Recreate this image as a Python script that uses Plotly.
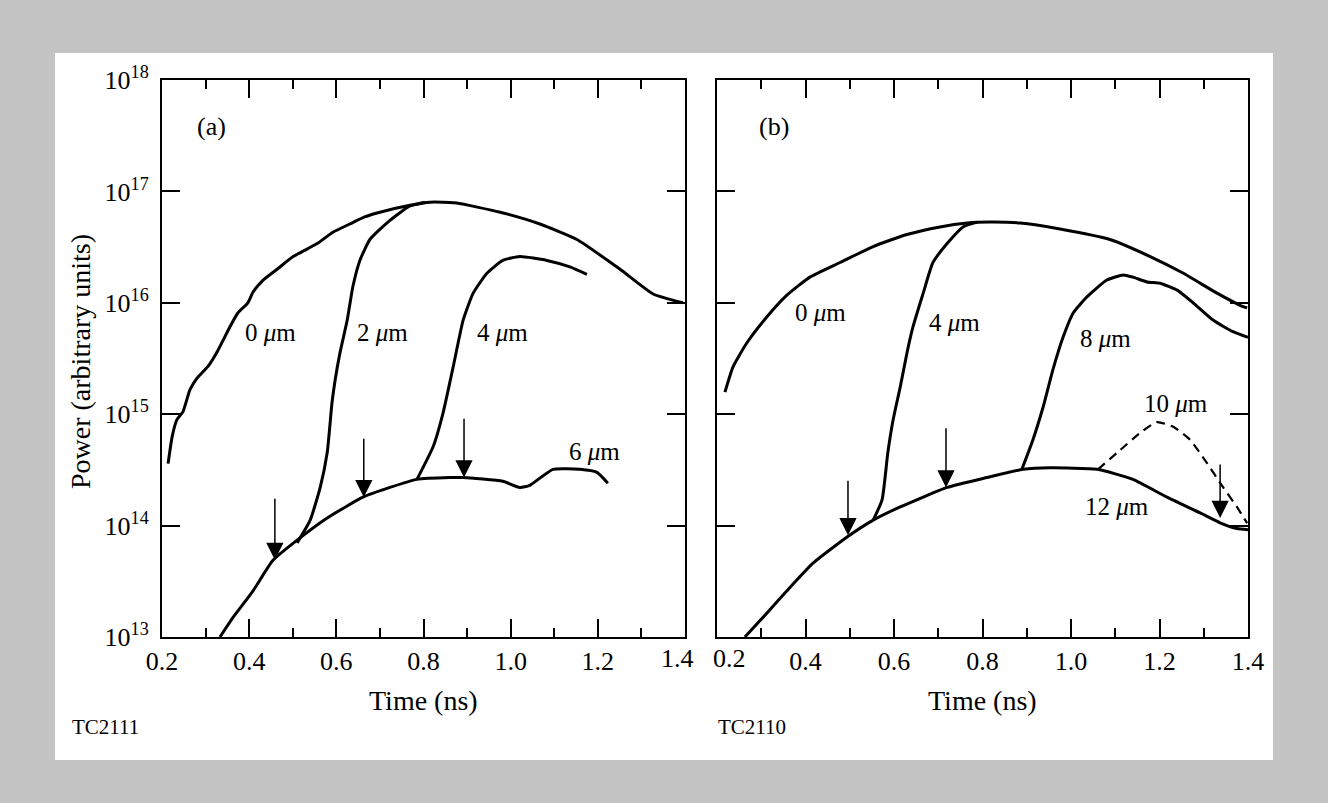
import numpy as np
import plotly.graph_objects as go

# ---------------- data ----------------
# Panel (a): power vs time for several layer thicknesses
a_t_0um = [0.214, 0.223, 0.234, 0.248, 0.264, 0.280, 0.306, 0.326, 0.356, 0.374, 0.397, 0.409, 0.432,
           0.464, 0.501, 0.556, 0.592, 0.631, 0.665, 0.700, 0.769, 0.815, 0.872, 0.976, 1.067, 1.152, 1.251,
           1.327, 1.395]
a_p_0um = [3.6e14, 6.2e14, 8.9e14, 1.05e15, 1.65e15, 2.1e15, 2.7e15, 3.6e15, 6.1e15, 8.1e15, 1.0e16, 1.25e16, 1.6e16,
           2.0e16, 2.6e16, 3.4e16, 4.3e16, 5.1e16, 5.9e16, 6.5e16, 7.5e16, 8.0e16, 7.9e16, 6.5e16, 5.1e16, 3.7e16, 2.0e16,
           1.2e16, 1.0e16]

a_t_2um = [0.510, 0.540, 0.563, 0.579, 0.590, 0.597, 0.608, 0.625, 0.638, 0.654, 0.677, 0.723, 0.769, 0.803]
a_p_2um = [7.0e13, 1.12e14, 2.2e14, 4.5e14, 1.26e15, 2.0e15, 3.5e15, 7.0e15, 1.4e16, 2.4e16, 3.7e16, 5.5e16, 7.4e16, 8.0e16]

a_t_4um = [0.785, 0.822, 0.845, 0.868, 0.891, 0.914, 0.946, 0.982, 1.021, 1.083, 1.136, 1.175]
a_p_4um = [2.6e14, 5.1e14, 1.03e15, 2.65e15, 7.0e15, 1.22e16, 1.85e16, 2.4e16, 2.6e16, 2.4e16, 2.1e16, 1.8e16]

a_t_6um = [0.333, 0.363, 0.409, 0.455, 0.510, 0.579, 0.661, 0.723, 0.785, 0.861, 0.891, 0.982, 1.021, 1.044,
           1.097, 1.159, 1.198, 1.223]
a_p_6um = [1.0e13, 1.5e13, 2.6e13, 4.9e13, 7.4e13, 1.17e14, 1.8e14, 2.2e14, 2.6e14, 2.7e14, 2.7e14, 2.5e14, 2.2e14, 2.3e14,
           3.2e14, 3.2e14, 3.0e14, 2.4e14]

# Panel (b)
b_t_0um = [0.218, 0.236, 0.268, 0.313, 0.358, 0.410, 0.478, 0.553, 0.629, 0.704, 0.765, 0.817, 0.885, 0.975,
           1.088, 1.179, 1.253, 1.330, 1.382, 1.398]
b_p_0um = [1.58e15, 2.65e15, 4.4e15, 7.5e15, 1.17e16, 1.7e16, 2.3e16, 3.2e16, 4.1e16, 4.8e16, 5.2e16, 5.3e16, 5.2e16, 4.6e16,
           3.7e16, 2.6e16, 1.85e16, 1.22e16, 9.5e15, 9.0e15]

b_t_4um = [0.553, 0.573, 0.586, 0.598, 0.614, 0.629, 0.643, 0.666, 0.688, 0.720, 0.756, 0.788]
b_p_4um = [1.12e14, 1.7e14, 4.5e14, 8.9e14, 1.75e15, 3.5e15, 6.1e15, 1.22e16, 2.3e16, 3.4e16, 4.8e16, 5.3e16]

b_t_8um = [0.889, 0.914, 0.937, 0.959, 0.982, 1.005, 1.036, 1.081, 1.118, 1.140, 1.172, 1.201, 1.240, 1.276,
           1.321, 1.366, 1.400]
b_p_8um = [3.2e14, 5.9e14, 1.16e15, 2.5e15, 4.9e15, 8.1e15, 1.13e16, 1.6e16, 1.78e16, 1.7e16, 1.54e16, 1.5e16, 1.3e16,
           1.0e16, 7.0e15, 5.5e15, 4.9e15]

b_t_10um = [1.061, 1.104, 1.156, 1.194, 1.231, 1.269, 1.307, 1.344, 1.375, 1.398]
b_p_10um = [3.2e14, 4.5e14, 6.8e14, 8.5e14, 7.7e14, 5.9e14, 3.65e14, 2.2e14, 1.47e14, 1.05e14]

b_t_12um = [0.263, 0.304, 0.358, 0.417, 0.494, 0.553, 0.614, 0.720, 0.810, 0.892, 0.953, 1.059, 1.140, 1.217,
            1.292, 1.337, 1.375, 1.400]
b_p_12um = [1.0e13, 1.5e13, 2.6e13, 4.6e13, 7.9e13, 1.12e14, 1.47e14, 2.2e14, 2.7e14, 3.2e14, 3.3e14, 3.2e14, 2.6e14,
            1.8e14, 1.3e14, 1.06e14, 9.4e13, 9.2e13]

# Arrow markers: time, tail power, tip power
a_arrow_t = [0.459, 0.663, 0.893]
a_arrow_tail = [1.8e14, 6.2e14, 9.4e14]
a_arrow_tip = [4.9e13, 1.8e14, 2.7e14]

b_arrow_t = [0.496, 0.7175, 1.337]
b_arrow_tail = [2.6e14, 7.7e14, 3.65e14]
b_arrow_tip = [8.2e13, 2.2e14, 1.17e14]

# Curve labels: text, time (left edge), power
a_labels = ["0 <i>μ</i>m", "2 <i>μ</i>m", "4 <i>μ</i>m", "6 <i>μ</i>m"]
a_label_t = [0.386, 0.643, 0.918, 1.129]
a_label_p = [5.4e15, 5.4e15, 5.4e15, 4.6e14]

b_labels = ["0 <i>μ</i>m", "4 <i>μ</i>m", "8 <i>μ</i>m", "10 <i>μ</i>m", "12 <i>μ</i>m"]
b_label_t = [0.372, 0.675, 1.016, 1.160, 1.027]
b_label_p = [8.1e15, 6.6e15, 4.8e15, 1.26e15, 1.47e14]

# Axis ticks
x_major = [0.2, 0.4, 0.6, 0.8, 1.0, 1.2, 1.4]
x_major_text = ["0.2", "0.4", "0.6", "0.8", "1.0", "1.2", "1.4"]
x_minor = [0.3, 0.5, 0.7, 0.9, 1.1, 1.3]
y_ticks = [1e13, 1e14, 1e15, 1e16, 1e17, 1e18]
y_exponents = ["13", "14", "15", "16", "17", "18"]

# ---------------- figure ----------------
W, H = 1328, 803
FONT = "Liberation Serif"
INK = "black"
TICK_SIZE = 26

fig = go.Figure()


def add_curve(t, p, xa, ya, dash="solid", width=3.0):
    fig.add_trace(go.Scatter(
        x=t, y=p, xaxis=xa, yaxis=ya, mode="lines",
        line=dict(color=INK, width=width, dash=dash, shape="spline", smoothing=0.5),
        showlegend=False, hoverinfo="skip"))


add_curve(a_t_0um, a_p_0um, "x", "y")
add_curve(a_t_2um, a_p_2um, "x", "y")
add_curve(a_t_4um, a_p_4um, "x", "y")
add_curve(a_t_6um, a_p_6um, "x", "y")

add_curve(b_t_0um, b_p_0um, "x2", "y2")
add_curve(b_t_4um, b_p_4um, "x2", "y2")
add_curve(b_t_8um, b_p_8um, "x2", "y2")
add_curve(b_t_12um, b_p_12um, "x2", "y2")
add_curve(b_t_10um, b_p_10um, "x2", "y2", dash="9px,6px", width=2.2)


def px_x(v):
    return v / W


def px_y(v):
    return 1 - v / H


annotations = []

# arrows
for ts, tails, tips, xr, yr in [(a_arrow_t, a_arrow_tail, a_arrow_tip, "x", "y"),
                                (b_arrow_t, b_arrow_tail, b_arrow_tip, "x2", "y2")]:
    for t, tail, tip in zip(ts, tails, tips):
        annotations.append(dict(
            x=t, y=np.log10(tip), ax=t, ay=np.log10(tail),
            xref=xr, yref=yr, axref=xr, ayref=yr,
            text="", showarrow=True, arrowhead=2, arrowsize=2.3, arrowwidth=1.5,
            arrowcolor=INK, standoff=0))

# curve labels
for labels, ts, ps, xr, yr in [(a_labels, a_label_t, a_label_p, "x", "y"),
                               (b_labels, b_label_t, b_label_p, "x2", "y2")]:
    for s, t, p in zip(labels, ts, ps):
        annotations.append(dict(
            x=t, y=np.log10(p), xref=xr, yref=yr, text=s, showarrow=False,
            xanchor="left", yanchor="middle", font=dict(family=FONT, size=25, color=INK)))

# the two neighbouring end labels ("1.4" of (a), "0.2" of (b)) are nudged apart
for s, t, xr, yr, shift in [("1.4", 1.4, "x", "y", -8), ("0.2", 0.2, "x2", "y2", 12)]:
    annotations.append(dict(
        x=t, y=13, xref=xr, yref=yr, text=s, showarrow=False, xshift=shift, yshift=-21,
        xanchor="center", yanchor="middle", font=dict(family=FONT, size=TICK_SIZE, color=INK)))

# panel letters, axis titles and figure codes
text_items = [
    ("(a)", 195, 127, "left", 26, 0),
    ("(b)", 757, 127, "left", 26, 0),
    ("Time (ns)", 423, 700, "center", 28, 0),
    ("Time (ns)", 982, 700, "center", 28, 0),
    ("Power (arbitrary units)", 80, 362, "center", 28, -90),
    ("TC2111", 70, 727, "left", 21, 0),
    ("TC2110", 716, 727, "left", 21, 0),
]
for s, x, y, anchor, size, angle in text_items:
    annotations.append(dict(
        x=px_x(x), y=px_y(y), xref="paper", yref="paper", text=s, showarrow=False,
        xanchor=anchor, yanchor="middle", textangle=angle,
        font=dict(family=FONT, size=size, color=INK)))

xa_dom = [162 / W, 685 / W]
xb_dom = [717 / W, 1248 / W]
y_dom = [1 - 637 / H, 1 - 80 / H]


def x_axis(domain, anchor, hidden_label):
    text = ["" if v == hidden_label else s for v, s in zip(x_major, x_major_text)]
    return dict(
        domain=domain, anchor=anchor, range=[0.2, 1.4],
        tickmode="array", tickvals=x_major, ticktext=text,
        ticks="inside", ticklen=18, tickwidth=1.6, tickcolor=INK,
        minor=dict(tickmode="array", tickvals=x_minor, ticks="inside", ticklen=9,
                   tickwidth=1.6, tickcolor=INK, showgrid=False),
        showline=True, linewidth=2, linecolor=INK, mirror="allticks",
        showgrid=False, zeroline=False, automargin=False,
        tickfont=dict(family=FONT, size=TICK_SIZE, color=INK))


def y_axis(domain, anchor, labels):
    text = ["10<sup>%s</sup>" % e for e in y_exponents]
    return dict(
        domain=domain, anchor=anchor, type="log", range=[13, 18],
        tickmode="array", tickvals=y_ticks, ticktext=text,
        ticks="inside", ticklen=18, tickwidth=1.6, tickcolor=INK,
        showline=True, linewidth=2, linecolor=INK, mirror="allticks",
        showgrid=False, zeroline=False, automargin=False, showticklabels=labels,
        ticklabelstandoff=6,
        tickfont=dict(family=FONT, size=TICK_SIZE, color=INK))


fig.update_layout(
    width=W, height=H,
    margin=dict(l=0, r=0, t=0, b=0),
    paper_bgcolor="#c4c4c4",
    plot_bgcolor="white",
    template="none",
    showlegend=False,
    xaxis=x_axis(xa_dom, "y", 1.4),
    yaxis=y_axis(y_dom, "x", True),
    xaxis2=x_axis(xb_dom, "y2", 0.2),
    yaxis2=y_axis(y_dom, "x2", False),
    annotations=annotations,
    shapes=[dict(type="rect", xref="paper", yref="paper",
                 x0=55 / W, x1=1273 / W, y0=1 - 760 / H, y1=1 - 53 / H,
                 fillcolor="white", line=dict(width=0), layer="below")],
)

fig.write_html("out.html")
